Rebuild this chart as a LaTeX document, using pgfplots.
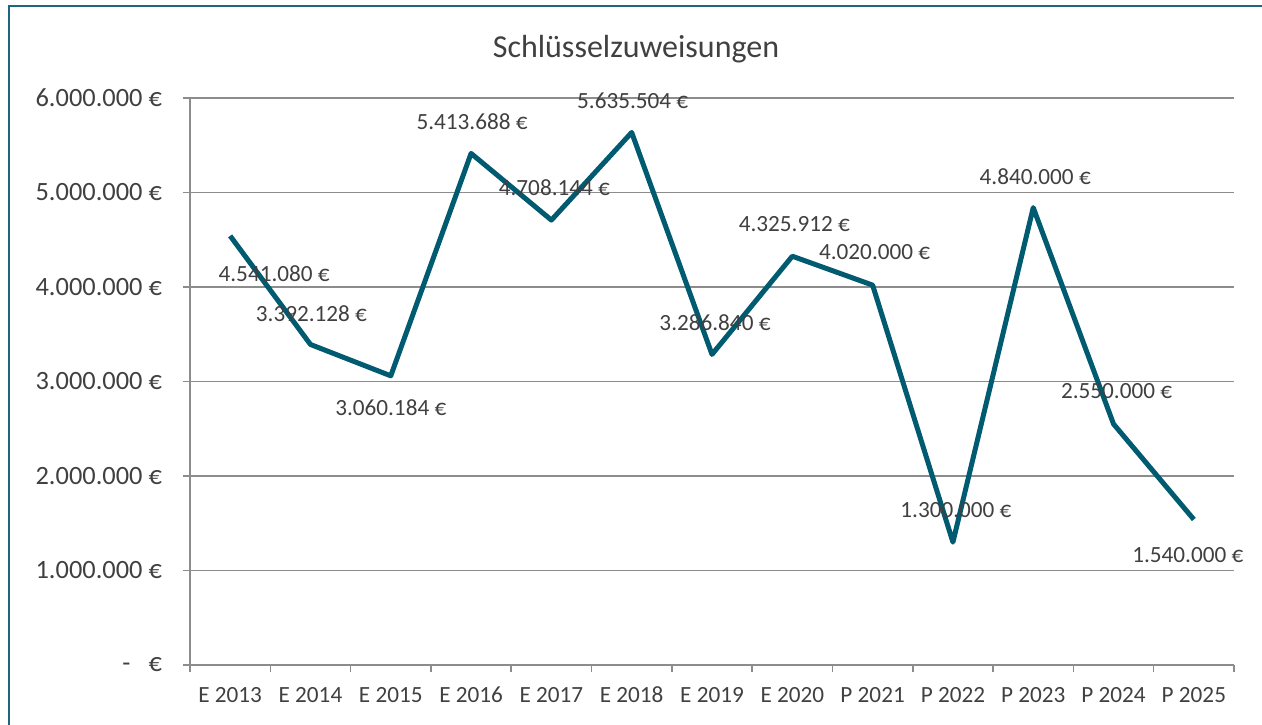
\documentclass[border=0pt]{standalone}
\usepackage{fontspec}
\setmainfont{Carlito}
\usepackage{pgfplots}
\usepackage{pgfplotstable}
\pgfplotsset{compat=1.18}
\definecolor{linec}{RGB}{0,90,112}
\definecolor{gridc}{RGB}{140,140,140}
\definecolor{txt}{RGB}{64,64,64}
\definecolor{framec}{RGB}{31,100,130}
\pgfplotstableread[col sep=comma]{
x,y,dx,dy,lab
0,4541080,22,-19,4.541.080~€
1,3392128,0.5,15.5,3.392.128~€
2,3060184,0,-16,3.060.184~€
3,5413688,0.5,16,5.413.688~€
4,4708144,1.5,16,4.708.144~€
5,5635504,0.5,16,5.635.504~€
6,3286840,1.5,16,3.286.840~€
7,4325912,1,16,4.325.912~€
8,4020000,1,16.5,4.020.000~€
9,1300000,1.5,16,1.300.000~€
10,4840000,1,15.5,4.840.000~€
11,2550000,1.5,16.5,2.550.000~€
12,1540000,-3,-18,1.540.000~€
}\datatable
\begin{document}
\begin{tikzpicture}
\path[use as bounding box] (-95pt,-29.5pt) rectangle (536pt,332.5pt);
\draw[framec, line width=1pt] (-90.5pt,-40pt) -- (-90.5pt,329.5pt) -- (545pt,329.5pt);
\begin{axis}[
  at={(0,0)}, anchor=south west,
  scale only axis, width=522pt, height=283.5pt,
  xmin=-0.5, xmax=12.5, ymin=0, ymax=6000000,
  axis x line*=bottom, axis y line*=left,
  axis line style={gridc, line width=0.75pt, -},
  ytick={0,1000000,2000000,3000000,4000000,5000000,6000000},
  yticklabels={{-\hspace{9pt}€},{1.000.000 €},{2.000.000 €},{3.000.000 €},{4.000.000 €},{5.000.000 €},{6.000.000 €}},
  ymajorgrids, grid style={gridc, line width=0.75pt},
  xtick={0,...,12},
  xticklabels={E 2013,E 2014,E 2015,E 2016,E 2017,E 2018,E 2019,E 2020,P 2021,P 2022,P 2023,P 2024,P 2025},
  major x tick style={draw=none},
  minor xtick={-0.5,0.5,...,12.5},
  tick align=outside,
  major tick length=3.5pt, minor tick length=3.5pt,
  tick style={gridc, line width=0.75pt},
  scaled y ticks=false,
  xticklabel style={font=\fontsize{11.6}{13}\selectfont, text=txt, yshift=-4pt},
  yticklabel style={font=\fontsize{13.2}{15}\selectfont, text=txt, xshift=-7pt},
  clip=false,
]
\addplot[linec, line width=2.5pt, line join=round] table[x=x, y=y] {\datatable};
\addplot[draw=none, mark=none,
  point meta=explicit symbolic,
  visualization depends on={\thisrow{dx} \as \dxv},
  visualization depends on={\thisrow{dy} \as \dyv},
  nodes near coords,
  every node near coord/.append style={anchor=center, xshift=\dxv pt, yshift=\dyv pt, font=\fontsize{11.6}{13}\selectfont, text=txt, inner sep=0pt},
] table[x=x, y=y, meta=lab] {\datatable};
\end{axis}
\node[font=\fontsize{16}{18}\selectfont, text=txt] at (223pt,308pt) {Schlüsselzuweisungen};
\end{tikzpicture}
\end{document}
